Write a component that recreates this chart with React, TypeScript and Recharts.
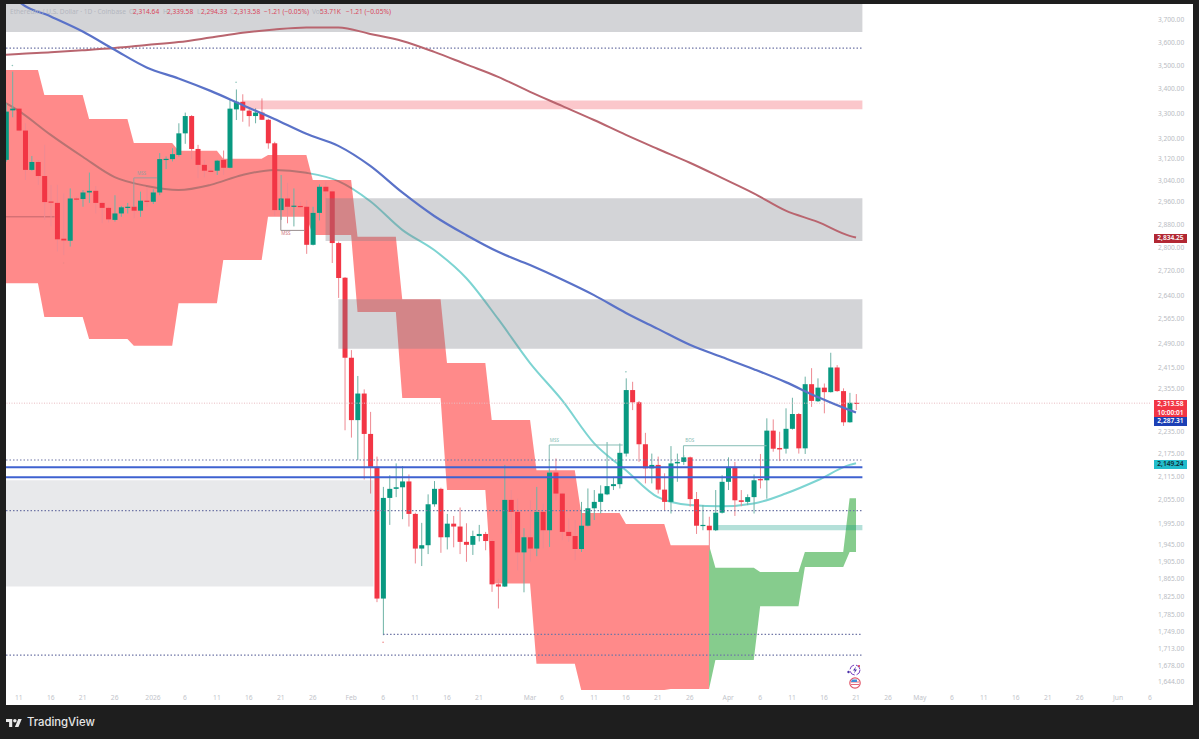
import {
  Area,
  Bar,
  ComposedChart,
  Line,
  ReferenceArea,
  ReferenceDot,
  ReferenceLine,
  XAxis,
  YAxis,
} from "recharts";

const FIRST_DAY = -2; // day 0 is Dec 11

const opens = [
  3117, 3312, 3319, 3231, 3079, 3109, 3056, 2962, 2957, 2830,
  2823, 2973, 2971, 2995, 3001, 2957, 2939, 2896, 2919, 2940,
  2943, 2929, 2965, 2961, 2995, 3117, 3120, 3136, 3220, 3289,
  3159, 3098, 3076, 3076, 3117, 3087, 3316, 3347, 3311, 3289,
  3303, 3274, 3181, 2931, 2973, 2943, 2946, 2943, 2809, 2921,
  3016, 2999, 2815, 2698, 2446, 2266, 2341, 2228, 2140, 1821,
  2060, 2083, 2087, 2102, 2020, 1936, 1944, 2044, 2083, 1963,
  1996, 1989, 1952, 1945, 1966, 1971, 1954, 1853, 1848, 2055,
  2025, 1927, 1963, 1936, 2025, 1980, 2125, 2071, 1976, 1966,
  1935, 1991, 2034, 2050, 2069, 2090, 2095, 2175, 2351, 2316,
  2200, 2136, 2145, 2081, 2050, 2149, 2153, 2165, 2057, 1991,
  1991, 1980, 2023, 2101, 2140, 2054, 2050, 2062, 2108, 2105,
  2237, 2190, 2188, 2242, 2283, 2189, 2368, 2319, 2358, 2345,
  2417, 2348, 2260, 2314.64,
];
const highs = [
  3341, 3473, 3322, 3260, 3132, 3117, 3175, 3023, 3023, 2992,
  3010, 2979, 3004, 3069, 3019, 2961, 2943, 2985, 2946, 2957,
  2949, 2998, 3014, 3007, 3143, 3130, 3162, 3260, 3303, 3293,
  3175, 3117, 3085, 3117, 3153, 3354, 3398, 3378, 3320, 3320,
  3361, 3278, 3187, 3060, 3031, 3010, 2961, 2967, 2943, 3025,
  3035, 3003, 2820, 2700, 2469, 2392, 2353, 2289, 2167, 2088,
  2118, 2149, 2142, 2120, 2023, 1998, 2069, 2103, 2086, 2020,
  2015, 2036, 1997, 1979, 1993, 1976, 1957, 1866, 2145, 2080,
  2058, 1985, 2054, 2088, 2046, 2135, 2162, 2073, 2009, 2005,
  2050, 2084, 2080, 2092, 2206, 2114, 2202, 2385, 2375, 2320,
  2231, 2175, 2167, 2123, 2195, 2175, 2171, 2167, 2075, 2042,
  2013, 2080, 2118, 2165, 2153, 2080, 2069, 2120, 2174, 2271,
  2268, 2234, 2299, 2329, 2286, 2390, 2415, 2385, 2370, 2461,
  2424, 2356, 2343, 2339.58,
];
const lows = [
  3110, 3284, 3227, 3041, 3076, 3023, 2896, 2873, 2786, 2774,
  2803, 2961, 2943, 2957, 2919, 2884, 2887, 2890, 2907, 2919,
  2902, 2907, 2943, 2953, 2985, 3082, 3111, 3130, 3179, 3120,
  3048, 3051, 3070, 3060, 3060, 3085, 3273, 3266, 3247, 3260,
  3273, 3160, 2910, 2896, 2884, 2873, 2938, 2778, 2807, 2894,
  2973, 2747, 2632, 2238, 2218, 2158, 2107, 2071, 1813, 1741,
  1993, 2062, 2007, 1989, 1901, 1895, 1923, 2038, 1926, 1934,
  1939, 1923, 1905, 1921, 1953, 1932, 1836, 1799, 1847, 1972,
  1885, 1835, 1905, 1918, 1936, 1940, 2054, 1956, 1952, 1909,
  1928, 1989, 2005, 2021, 2067, 2080, 2084, 2167, 2294, 2153,
  2097, 2097, 2071, 2029, 2021, 2101, 2145, 2038, 1971, 1980,
  1932, 1978, 2021, 2080, 2015, 2039, 2042, 2021, 2084, 2058,
  2180, 2155, 2175, 2240, 2175, 2174, 2303, 2317, 2285, 2344,
  2346, 2250, 2259, 2294.33,
];
const closes = [
  3307, 3319, 3231, 3079, 3109, 3056, 2960, 2958, 2828, 2824,
  2973, 2970, 2995, 3001, 2957, 2939, 2898, 2919, 2941, 2943,
  2929, 2965, 2961, 2995, 3120, 3121, 3139, 3220, 3289, 3159,
  3098, 3076, 3074, 3114, 3087, 3319, 3347, 3311, 3289, 3303,
  3274, 3181, 2931, 2973, 2943, 2947, 2943, 2809, 2921, 3016,
  2999, 2815, 2697, 2446, 2266, 2341, 2228, 2140, 1821, 2060,
  2083, 2087, 2102, 2020, 1936, 1944, 2044, 2083, 1963, 1996,
  1989, 1952, 1945, 1966, 1971, 1954, 1853, 1848, 2055, 2025,
  1927, 1963, 1936, 2025, 1980, 2125, 2071, 1976, 1966, 1935,
  1991, 2034, 2050, 2071, 2090, 2095, 2177, 2351, 2316, 2200,
  2136, 2145, 2081, 2050, 2149, 2153, 2165, 2057, 1991, 1993,
  1980, 2023, 2101, 2140, 2054, 2050, 2062, 2105, 2105, 2237,
  2188, 2186, 2242, 2283, 2189, 2368, 2320, 2358, 2345, 2417,
  2348, 2260, 2314.67, 2313.58,
];

// kumo cloud, flat blocks of 6 days with a one day slope between them
const redCloudStarts = [-2, 4, 11, 18, 25, 32, 39, 46, 53, 60, 67, 74, 81, 88, 95, 102];
const redCloudEnds = [3, 10, 17, 24, 31, 38, 45, 52, 59, 66, 73, 80, 87, 94, 101, 108];
const redCloudTop = [3480, 3375, 3277, 3182, 3152, 3121, 3136, 3041, 2837, 2628, 2430, 2266, 2131, 2022, 1995, 1944];
const redCloudBottom = [2680, 2571, 2503, 2482, 2615, 2757, 2907, 2843, 2587, 2328, 2080, 1855, 1681, 1628, 1628, 1630];

const greenCloudStarts = [108, 109, 116, 123, 130];
const greenCloudEnds = [108, 115, 122, 129, 131];
const greenCloudTop = [1944, 1891, 1881, 1928, 2059];
const greenCloudBottom = [1630, 1689, 1804, 1893, 1928];

const maDays = [-2, 0, 5, 10, 15, 20, 25, 30, 35, 40, 45, 50, 55, 60, 65, 70, 75, 80, 85, 90, 95, 100, 105, 110, 115, 120, 125, 130, 131];
const blueMa = [3860, 3785, 3716, 3648, 3567, 3491, 3444, 3392, 3334, 3277, 3218, 3171, 3094, 2995, 2910, 2843, 2785, 2740, 2692, 2641, 2584, 2534, 2485, 2448, 2412, 2374, 2331, 2294, 2287.31];
const tealMa = [3342, 3310, 3214, 3129, 3052, 3019, 3004, 3023, 3060, 3079, 3068, 3037, 2963, 2861, 2791, 2697, 2565, 2430, 2322, 2203, 2131, 2062, 2042, 2039, 2046, 2071, 2105, 2145, 2149.24];
const maroonMa = [3545, 3549, 3556, 3565, 3575, 3588, 3601, 3621, 3642, 3657, 3666, 3666, 3637, 3606, 3558, 3504, 3451, 3388, 3330, 3273, 3214, 3159, 3106, 3049, 2992, 2929, 2889, 2840, 2834.25];

const priceTicks = [3700, 3600, 3500, 3400, 3300, 3200, 3120, 3040, 2960, 2880, 2800, 2720, 2640, 2565, 2490, 2415, 2355, 2235, 2175, 2115, 2055, 1995, 1945, 1905, 1865, 1825, 1785, 1749, 1713, 1678, 1644];

const dayTicks = [0, 5, 10, 15, 21, 26, 31, 36, 41, 46, 52, 57, 62, 67, 72, 80, 85, 90, 95, 100, 105, 111, 116, 121, 126, 131, 136, 141, 146, 151, 156, 161, 166, 172, 177];
const dayLabels = ["11", "16", "21", "26", "2026", "6", "11", "16", "21", "26", "Feb", "6", "11", "16", "21", "Mar", "6", "11", "16", "21", "26", "Apr", "6", "11", "16", "21", "26", "May", "6", "11", "16", "21", "26", "Jun", "6"];

const greyZones = [
  { from: -2, top: 3773, bottom: 3646, opacity: 0.33 },
  { from: 48, top: 2974, bottom: 2822, opacity: 0.33 },
  { from: 50, top: 2628, bottom: 2473, opacity: 0.33 },
];

const dottedLevels = [
  { from: -2, price: 3574 },
  { from: -2, price: 2158 },
  { from: -2, price: 2028 },
  { from: 57, price: 1743 },
  { from: -2, price: 1699 },
];
const blueLevels = [2139, 2113];

const structures = [
  { label: "MSS", start: 18, end: 21.6, level: 3049, anchor: 2942, labelDay: 19.2, labelPrice: 3066, color: "#9a9c9c", text: "#9a9c9c" },
  { label: "MSS", start: 41, end: 44.7, level: 2859, anchor: 2973, labelDay: 41.8, labelPrice: 2847, color: "#9a8f90", text: "#d0797f" },
  { label: "MSS", start: 83, end: 94.5, level: 2198, anchor: 2125, labelDay: 83.8, labelPrice: 2211, color: "#86bdb5", text: "#86bdb5" },
  { label: "BOS", start: 104, end: 117, level: 2196, anchor: 2165, labelDay: 105, labelPrice: 2211, color: "#86bdb5", text: "#86bdb5" },
];

const swingMarks = [
  { day: -1, price: 3499, color: "#8fc4bb" },
  { day: 34, price: 3428, color: "#8fc4bb" },
  { day: 7, price: 2747, color: "#e88" },
  { day: 57, price: 1726, color: "#e88" },
  { day: 95, price: 2404, color: "#8fc4bb" },
];

const headerParts = [
  { text: "Ethereum / U.S. Dollar · 1D · Coinbase", left: 10, color: "#b4b7bf" },
  { text: "O", left: 129, color: "#b4b7bf" },
  { text: "2,314.64", left: 133, color: "#d9475c" },
  { text: "H", left: 163, color: "#b4b7bf" },
  { text: "2,339.58", left: 167, color: "#d9475c" },
  { text: "L", left: 197, color: "#b4b7bf" },
  { text: "2,294.33", left: 201, color: "#d9475c" },
  { text: "C", left: 230, color: "#b4b7bf" },
  { text: "2,313.58", left: 234, color: "#d9475c" },
  { text: "−1.21 (−0.05%)", left: 264, color: "#d9475c" },
  { text: "Vol", left: 312, color: "#b4b7bf" },
  { text: "53.71K", left: 320, color: "#d9475c" },
  { text: "−1.21 (−0.05%)", left: 346, color: "#d9475c" },
];

const badges = [
  { lines: ["2,834.25"], top: 234, height: 9, bg: "#b22833", color: "#fff" },
  { lines: ["2,313.58", "10:00:01"], top: 400, height: 17, bg: "#f23645", color: "#fff" },
  { lines: ["2,287.31"], top: 417, height: 9, bg: "#1c3fb5", color: "#fff" },
  { lines: ["2,149.24"], top: 460, height: 9, bg: "#22bccb", color: "#0f2b33" },
];

const candles = opens.map((open, i) => ({
  day: FIRST_DAY + i,
  open,
  close: closes[i],
  wick: [lows[i], highs[i]],
  body: [Math.min(open, closes[i]), Math.max(open, closes[i])],
}));

function cloudRows(starts: number[], ends: number[], top: number[], bottom: number[]) {
  const rows: any[] = [];
  starts.forEach((start, i) => {
    rows.push({ day: start, band: [bottom[i], top[i]] });
    if (ends[i] !== start) rows.push({ day: ends[i], band: [bottom[i], top[i]] });
  });
  return rows;
}
const redCloud = cloudRows(redCloudStarts, redCloudEnds, redCloudTop, redCloudBottom);
const greenCloud = cloudRows(greenCloudStarts, greenCloudEnds, greenCloudTop, greenCloudBottom);

const maRows = (values: number[]) => maDays.map((day, i) => ({ day, value: values[i] }));

const UP = "#089981";
const DOWN = "#f23645";
const LABEL_FONT = '"Noto Sans", sans-serif';

function candleBody(props: any) {
  const { x, y, width, height, payload } = props;
  return <rect x={x} y={y} width={width} height={Math.max(height, 1.2)} fill={payload.close >= payload.open ? UP : DOWN} />;
}

function candleWick(props: any) {
  const { x, y, width, height, payload } = props;
  return <rect x={x} y={y} width={width} height={height} fill={payload.close >= payload.open ? "#6fb3a6" : "#ee8a92"} />;
}

function formatPrice(value: number) {
  return value.toLocaleString("en-US", { minimumFractionDigits: 2, maximumFractionDigits: 2 });
}

function TradingViewMark() {
  return (
    <svg width="16" height="9" viewBox="0 0 36 20" style={{ position: "absolute", left: 6, top: 718 }}>
      <path d="M14 20H7V9H0V2h14v18zM28 20h-8l7.5-18h8L28 20z" fill="#eaeaea" />
      <circle cx="20" cy="6" r="4" fill="#eaeaea" />
    </svg>
  );
}

export default function App() {
  return (
    <div style={{ position: "fixed", left: 0, top: 0, width: 1199, height: 739, background: "#1e1e1e", overflow: "hidden" }}>
      <div style={{ position: "absolute", left: 6, top: 4, width: 1187, height: 701, background: "#fff", overflow: "hidden" }}>
        <ComposedChart width={1186} height={701} data={candles} margin={{ top: 0, right: 0, bottom: 0, left: 0 }}>
          <XAxis
            xAxisId="main"
            dataKey="day"
            type="number"
            domain={[-2, 177]}
            allowDataOverflow
            ticks={dayTicks}
            interval={0}
            height={14}
            axisLine={false}
            tickLine={false}
            tickMargin={-2}
            tick={{ fontSize: 6.7, fill: "#c2c4ca", fontFamily: LABEL_FONT }}
            tickFormatter={(d: number) => dayLabels[dayTicks.indexOf(d)]}
          />
          <XAxis xAxisId="wick" dataKey="day" type="number" domain={[-2, 177]} allowDataOverflow hide />
          <YAxis
            yAxisId="price"
            orientation="right"
            width={42}
            scale="log"
            domain={[1626, 3773]}
            allowDataOverflow
            ticks={priceTicks}
            interval={0}
            axisLine={false}
            tickLine={false}
            tickMargin={2}
            tick={{ fontSize: 6.6, fill: "#b9bcc3", fontFamily: LABEL_FONT }}
            tickFormatter={formatPrice}
          />

          <Line xAxisId="main" yAxisId="price" data={maRows(tealMa)} dataKey="value" type="monotone" stroke="#7dd4d2" strokeWidth={2} dot={false} isAnimationActive={false} zIndex={10} />

          <Area xAxisId="main" yAxisId="price" data={redCloud} dataKey="band" type="linear" fill="#ff0000" fillOpacity={0.46} stroke="none" dot={false} isAnimationActive={false} zIndex={20} />
          <Area xAxisId="main" yAxisId="price" data={greenCloud} dataKey="band" type="linear" fill="#0e9a1c" fillOpacity={0.5} stroke="none" dot={false} isAnimationActive={false} zIndex={20} />

          <ReferenceLine xAxisId="main" yAxisId="price" segment={[{ x: -2, y: 2907 }, { x: 5.6, y: 2907 }]} stroke="#c2666c" strokeWidth={1} zIndex={25} />

          <Bar xAxisId="wick" yAxisId="price" dataKey="wick" barSize={1} shape={candleWick} isAnimationActive={false} zIndex={30} />
          <Bar xAxisId="main" yAxisId="price" dataKey="body" barSize={5} shape={candleBody} isAnimationActive={false} zIndex={31} />

          {greyZones.map((z) => (
            <ReferenceArea key={z.top} xAxisId="main" yAxisId="price" x1={z.from} x2={132} y1={z.bottom} y2={z.top} fill="#787b86" fillOpacity={z.opacity} stroke="none" zIndex={40} />
          ))}
          <ReferenceArea xAxisId="main" yAxisId="price" x1={-2} x2={55.5} y1={1848} y2={2105} fill="#787b86" fillOpacity={0.17} stroke="none" zIndex={40} />
          <ReferenceArea xAxisId="main" yAxisId="price" x1={35} x2={132} y1={3317} y2={3352} fill="#f23645" fillOpacity={0.28} stroke="none" zIndex={40} />
          <ReferenceArea xAxisId="main" yAxisId="price" x1={109} x2={132} y1={1980} y2={1993} fill="#089981" fillOpacity={0.3} stroke="none" zIndex={40} />

          {structures.map((s) => (
            <ReferenceLine key={`h${s.start}`} xAxisId="main" yAxisId="price" segment={[{ x: s.start, y: s.level }, { x: s.end, y: s.level }]} stroke={s.color} strokeWidth={1} zIndex={45} />
          ))}
          {structures.map((s) => (
            <ReferenceLine key={`v${s.start}`} xAxisId="main" yAxisId="price" segment={[{ x: s.start, y: s.level }, { x: s.start, y: s.anchor }]} stroke={s.color} strokeWidth={1} zIndex={45} />
          ))}
          {structures.map((s) => (
            <ReferenceDot
              key={`l${s.start}`}
              xAxisId="main"
              yAxisId="price"
              x={s.labelDay}
              y={s.labelPrice}
              r={0}
              stroke="none"
              fill="none"
              label={{ value: s.label, fontSize: 4.6, fill: s.text, fontFamily: LABEL_FONT }}
              zIndex={45}
            />
          ))}
          {swingMarks.map((m) => (
            <ReferenceDot key={m.day} xAxisId="main" yAxisId="price" x={m.day} y={m.price} r={0.8} fill={m.color} stroke="none" zIndex={45} />
          ))}

          <ReferenceLine xAxisId="main" yAxisId="price" y={2313.58} stroke="#e8bcc1" strokeDasharray="1 1.5" strokeWidth={1} zIndex={46} />
          {dottedLevels.map((l) => (
            <ReferenceLine key={l.price} xAxisId="main" yAxisId="price" segment={[{ x: l.from, y: l.price }, { x: 132, y: l.price }]} stroke="#6f76a6" strokeDasharray="1.5 2" strokeWidth={1.2} zIndex={47} />
          ))}
          {blueLevels.map((price) => (
            <ReferenceLine key={price} xAxisId="main" yAxisId="price" segment={[{ x: -2, y: price }, { x: 132, y: price }]} stroke="#3f62d0" strokeWidth={2} zIndex={48} />
          ))}

          <Line xAxisId="main" yAxisId="price" data={maRows(maroonMa)} dataKey="value" type="monotone" stroke="#b9656f" strokeWidth={2} dot={false} isAnimationActive={false} zIndex={50} />
          <Line xAxisId="main" yAxisId="price" data={maRows(blueMa)} dataKey="value" type="monotone" stroke="#5a72c8" strokeWidth={2.2} dot={false} isAnimationActive={false} zIndex={51} />
        </ComposedChart>
      </div>

      {headerParts.map((p) => (
        <div key={p.left} style={{ position: "absolute", left: p.left, top: 7, fontFamily: LABEL_FONT, fontSize: 6.6, lineHeight: "9px", color: p.color, whiteSpace: "nowrap" }}>
          {p.text}
        </div>
      ))}

      {badges.map((b) => (
        <div
          key={b.top}
          style={{
            position: "absolute",
            left: 1154,
            top: b.top,
            width: 33,
            height: b.height,
            background: b.bg,
            color: b.color,
            fontFamily: LABEL_FONT,
            fontSize: 6.6,
            fontWeight: 600,
            lineHeight: "8.5px",
            textAlign: "center",
          }}
        >
          {b.lines.map((line) => (
            <div key={line}>{line}</div>
          ))}
        </div>
      ))}

      <svg width="16" height="28" style={{ position: "absolute", left: 847, top: 663 }}>
        <circle cx="8" cy="7" r="5" fill="#fff" stroke="#7a3fc0" strokeWidth="1" strokeDasharray="6 2" />
        <path d="M9 3.5 6 7.5h2l-1 3 3-4H8z" fill="#4a2fa8" />
        <circle cx="1.5" cy="9" r="1.2" fill="#4a2fa8" />
        <circle cx="12" cy="3" r="1" fill="#d6324a" />
        <circle cx="8" cy="20" r="5.2" fill="#fff" stroke="#e0566a" strokeWidth="1.2" />
        <path d="M4 19h8M4 21.5h8" stroke="#e0566a" strokeWidth="0.9" />
        <path d="M5 16.5h5v2.5H4z" fill="#3f8fd8" />
      </svg>

      <TradingViewMark />
      <div style={{ position: "absolute", left: 27, top: 713, fontFamily: "Inter, sans-serif", fontSize: 11.3, fontWeight: 500, lineHeight: "18px", color: "#e6e6e6" }}>
        TradingView
      </div>
    </div>
  );
}
